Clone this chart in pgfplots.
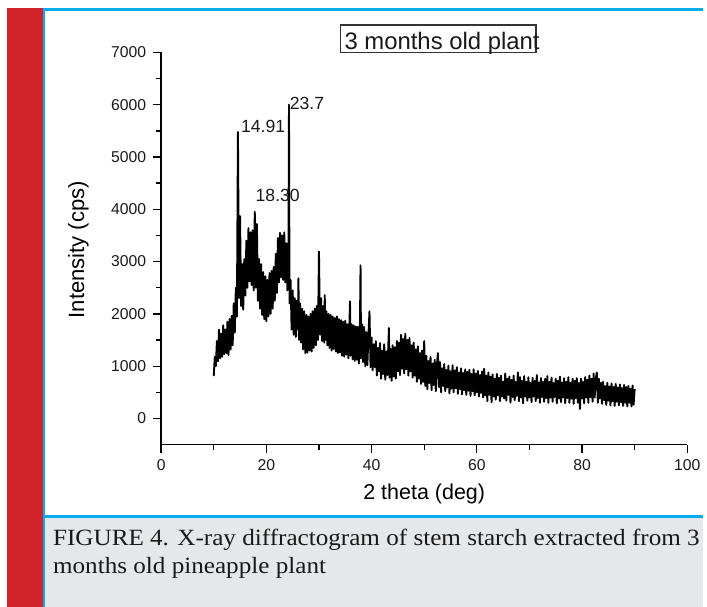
\documentclass[border=0pt]{standalone}
\usepackage{fontspec}
\setmainfont{Liberation Sans}
\newfontfamily\capfont[FakeStretch=1.08]{Liberation Serif}
\usepackage{pgfplots}
\pgfplotsset{compat=1.18}

\definecolor{pagered}{HTML}{D2232A}
\definecolor{pageblue}{HTML}{00AEEF}
\definecolor{capgray}{HTML}{E6E7E8}
\definecolor{boxgray}{HTML}{333333}

\begin{document}
\begin{tikzpicture}
% page decoration, in pixel units (y down)
\begin{scope}[x=0.5pt,y=-0.5pt]
  \useasboundingbox (0,0) rectangle (707,610);
  \fill[white] (0,0) rectangle (707,610);
  \fill[pagered] (7,8) rectangle (43,610);
  \fill[pageblue] (43,8) rectangle (45.5,610);
  \fill[pageblue] (43,8) rectangle (707,11);
  \fill[pageblue] (45.5,518) rectangle (707,521);
  \fill[capgray] (45.5,521) rectangle (707,610);
  \node[anchor=base west,inner sep=0,font=\capfont\fontsize{11.7pt}{14pt}\selectfont,text=black!90]
    at (53,548) {FIGURE 4. X-ray diffractogram of stem starch extracted from 3};
  \node[anchor=base west,inner sep=0,font=\capfont\fontsize{11.7pt}{14pt}\selectfont,text=black!90]
    at (53,577) {months old pineapple plant};
  % title box
  \draw[boxgray,line width=0.65pt] (342,25) rectangle (539,53);
  \node[anchor=base west,inner sep=0,font=\fontsize{12pt}{14pt}\selectfont,text=black!90]
    at (346,49.3) {3 months old plant};
\end{scope}

\begin{axis}[
    at={(81pt,-223.5pt)},
    anchor=south west,
    scale only axis,
    width=264.5pt,
    height=197.15pt,
    xmin=0, xmax=100,
    ymin=-500, ymax=7000,
    axis x line=bottom,
    axis y line=left,
    axis line style={-, line width=0.65pt},
    every tick/.style={black, line width=0.65pt},
    tick align=outside,
    major tick length=4pt,
    minor tick length=2.5pt,
    xtick={0,20,...,100},
    ytick={0,1000,...,7000},
    minor tick num=1,
    /pgf/number format/assume math mode=true,
    /pgf/number format/set thousands separator={},
    tick label style={font=\fontsize{7.9pt}{9pt}\selectfont, text=black!90},
    xlabel={2 theta (deg)},
    ylabel={Intensity (cps)},
    xlabel style={font=\fontsize{10.8pt}{13pt}\selectfont, anchor=center,
      at={(axis description cs:0.5,-0.127)}},
    ylabel style={font=\fontsize{11.1pt}{13pt}\selectfont, anchor=center, rotate=0,
      at={(axis description cs:-0.157,0.497)}},
    clip=false,
]
\addplot[black, line width=0.95pt, line join=round] table[row sep=\\] {
x y\\
10.0 810\\ 10.2 1180\\ 10.4 1000\\ 10.6 1480\\ 10.8 1090\\ 11.0 1700\\ 11.2 1150\\ 11.4 1620\\
11.6 1180\\ 11.8 1780\\ 12.0 1230\\ 12.2 1700\\ 12.4 1250\\ 12.6 1850\\ 12.8 1210\\ 13.0 1900\\
13.2 1320\\ 13.4 1960\\ 13.6 1400\\ 13.8 2200\\ 14.0 1640\\ 14.2 2500\\ 14.4 1950\\ 14.6 5480\\
14.8 2300\\ 15.0 3870\\ 15.2 2150\\ 15.4 2950\\ 15.6 2080\\ 15.8 3050\\ 16.0 2350\\ 16.2 3400\\
16.4 2500\\ 16.6 3640\\ 16.8 2620\\ 17.0 3560\\ 17.2 2550\\ 17.4 3600\\ 17.6 2450\\ 17.8 3950\\
18.0 2500\\ 18.2 3720\\ 18.4 2250\\ 18.6 3050\\ 18.8 2100\\ 19.0 2950\\ 19.2 1980\\ 19.4 2800\\
19.6 1900\\ 19.8 2720\\ 20.0 1860\\ 20.2 2650\\ 20.4 1950\\ 20.6 2780\\ 20.8 2000\\ 21.0 2820\\
21.2 2100\\ 21.4 2900\\ 21.6 2250\\ 21.8 3150\\ 22.0 2400\\ 22.2 3450\\ 22.4 2600\\ 22.6 3550\\
22.8 2700\\ 23.0 3500\\ 23.2 2650\\ 23.4 3560\\ 23.6 2600\\ 23.8 3350\\ 24.0 2450\\ 24.2 3100\\
24.3 6000\\ 24.4 2200\\ 24.6 2650\\ 24.8 1700\\ 25.0 2450\\ 25.2 1600\\ 25.4 2300\\ 25.6 1560\\
25.8 2250\\ 26.0 1700\\ 26.1 2680\\ 26.2 1500\\ 26.4 2200\\ 26.6 1450\\ 26.8 2100\\ 27.0 1320\\
27.2 2050\\ 27.4 1250\\ 27.6 1980\\ 27.8 1260\\ 28.0 1950\\ 28.2 1300\\ 28.4 2000\\ 28.6 1280\\
28.8 2050\\ 29.0 1350\\ 29.2 2100\\ 29.4 1400\\ 29.6 2150\\ 29.8 1500\\ 30.0 3190\\ 30.2 1600\\
30.4 2300\\ 30.6 1480\\ 30.8 2150\\ 31.0 1450\\ 31.1 2360\\ 31.2 1500\\ 31.4 2050\\ 31.6 1400\\
31.8 2000\\ 32.0 1350\\ 32.2 1980\\ 32.4 1300\\ 32.6 1950\\ 32.8 1330\\ 33.0 1920\\ 33.2 1280\\
33.4 1950\\ 33.6 1250\\ 33.8 1900\\ 34.0 1260\\ 34.2 1880\\ 34.4 1200\\ 34.6 1850\\ 34.8 1180\\
35.0 1870\\ 35.2 1220\\ 35.4 1800\\ 35.6 1150\\ 35.8 1850\\ 35.9 2240\\ 36.0 1200\\ 36.2 1800\\
36.4 1130\\ 36.6 1780\\ 36.8 1100\\ 37.0 1760\\ 37.2 1120\\ 37.4 1750\\ 37.6 1050\\ 37.8 1900\\
37.9 2930\\ 38.0 1150\\ 38.2 1800\\ 38.4 1080\\ 38.6 1750\\ 38.8 1000\\ 39.0 1650\\ 39.2 1020\\
39.4 1600\\ 39.6 2050\\ 39.8 980\\
40.0 1550\\ 40.2 920\\ 40.4 1420\\ 40.6 980\\ 40.8 1480\\ 41.0 820\\ 41.2 1350\\ 41.4 900\\
41.6 1440\\ 41.8 760\\ 42.0 1300\\ 42.2 850\\ 42.4 1420\\ 42.6 740\\ 42.8 1280\\ 43.0 830\\
43.2 1450\\ 43.3 1730\\ 43.4 780\\ 43.6 1330\\ 43.8 720\\ 44.0 1400\\ 44.2 800\\ 44.4 1360\\
44.6 760\\ 44.8 1480\\ 45.0 900\\ 45.2 1450\\ 45.4 830\\ 45.6 1600\\ 45.8 950\\ 46.0 1520\\
46.2 860\\ 46.4 1620\\ 46.6 940\\ 46.8 1500\\ 47.0 820\\ 47.2 1540\\ 47.4 900\\ 47.6 1400\\
47.8 780\\ 48.0 1450\\ 48.2 820\\ 48.4 1320\\ 48.6 700\\ 48.8 1380\\ 49.0 760\\ 49.2 1250\\
49.4 660\\ 49.6 1300\\ 49.8 700\\ 50.0 1480\\ 50.2 620\\ 50.4 1200\\ 50.6 560\\ 50.8 1100\\
51.0 680\\ 51.2 1180\\ 51.4 540\\ 51.6 1050\\ 51.8 640\\ 52.0 1120\\ 52.2 520\\ 52.4 1000\\
52.6 1250\\ 52.8 600\\ 53.0 1080\\ 53.2 500\\ 53.4 960\\ 53.6 620\\ 53.8 1040\\ 54.0 520\\
54.2 930\\ 54.4 590\\ 54.6 1010\\ 54.8 480\\ 55.0 900\\ 55.2 570\\ 55.4 1020\\ 55.6 500\\
55.8 920\\ 56.0 580\\ 56.2 980\\ 56.4 470\\ 56.6 880\\ 56.8 560\\ 57.0 960\\ 57.2 460\\
57.4 870\\ 57.6 540\\ 57.8 940\\ 58.0 450\\ 58.2 890\\ 58.4 530\\ 58.6 930\\ 58.8 430\\
59.0 850\\ 59.2 520\\ 59.4 940\\ 59.6 440\\ 59.8 860\\ 60.0 500\\ 60.2 910\\ 60.4 420\\
60.6 830\\ 60.8 490\\ 61.0 900\\ 61.2 400\\ 61.4 950\\ 61.6 440\\ 61.8 820\\ 62.0 330\\
62.2 880\\ 62.4 450\\ 62.6 800\\ 62.8 310\\ 63.0 840\\ 63.2 420\\ 63.4 760\\ 63.6 360\\
63.8 850\\ 64.0 440\\ 64.2 780\\ 64.4 330\\ 64.6 820\\ 64.8 420\\ 65.0 700\\ 65.2 380\\
65.4 860\\ 65.6 340\\ 65.8 760\\ 66.0 450\\ 66.2 800\\ 66.4 300\\ 66.6 740\\ 66.8 410\\
67.0 820\\ 67.2 350\\ 67.4 700\\ 67.6 430\\ 67.8 880\\ 68.0 330\\ 68.2 790\\ 68.4 400\\
68.6 720\\ 68.8 290\\ 69.0 810\\ 69.2 420\\ 69.4 700\\ 69.6 340\\ 69.8 790\\ 70.0 400\\
70.2 680\\ 70.4 310\\ 70.6 780\\ 70.8 420\\ 71.0 720\\ 71.2 330\\ 71.4 830\\ 71.6 390\\
71.8 690\\ 72.0 300\\ 72.2 770\\ 72.4 410\\ 72.6 700\\ 72.8 320\\ 73.0 760\\ 73.2 390\\
73.4 810\\ 73.6 300\\ 73.8 700\\ 74.0 400\\ 74.2 780\\ 74.4 320\\ 74.6 680\\ 74.8 410\\
75.0 760\\ 75.2 290\\ 75.4 720\\ 75.6 380\\ 75.8 800\\ 76.0 310\\ 76.2 690\\ 76.4 400\\
76.6 770\\ 76.8 290\\ 77.0 700\\ 77.2 390\\ 77.4 790\\ 77.6 300\\ 77.8 680\\ 78.0 380\\
78.2 760\\ 78.4 280\\ 78.6 720\\ 78.8 390\\ 79.0 770\\ 79.2 300\\ 79.4 680\\ 79.6 180\\
79.8 760\\ 80.0 380\\ 80.2 700\\ 80.4 290\\ 80.6 790\\ 80.8 400\\ 81.0 740\\ 81.2 300\\
81.4 820\\ 81.6 410\\ 81.8 760\\ 82.0 320\\ 82.2 860\\ 82.4 400\\ 82.6 750\\ 82.8 880\\
83.0 300\\ 83.2 760\\ 83.4 380\\ 83.6 680\\ 83.8 280\\ 84.0 700\\ 84.2 350\\ 84.4 620\\
84.6 260\\ 84.8 680\\ 85.0 340\\ 85.2 610\\ 85.4 250\\ 85.6 670\\ 85.8 330\\ 86.0 600\\
86.2 240\\ 86.4 660\\ 86.6 320\\ 86.8 590\\ 87.0 250\\ 87.2 650\\ 87.4 310\\ 87.6 580\\
87.8 240\\ 88.0 640\\ 88.2 300\\ 88.4 600\\ 88.6 230\\ 88.8 620\\ 89.0 300\\ 89.2 570\\
89.4 230\\ 89.6 630\\ 89.8 260\\ 90.0 560\\
};
% peak labels
\node[anchor=base west, inner sep=0, font=\fontsize{8.85pt}{10pt}\selectfont, text=black!90]
  at (axis cs:15.12,5475) {14.91};
\node[anchor=base west, inner sep=0, font=\fontsize{8.85pt}{10pt}\selectfont, text=black!90]
  at (axis cs:24.39,5913) {23.7};
\node[anchor=base west, inner sep=0, font=\fontsize{8.85pt}{10pt}\selectfont, text=black!90]
  at (axis cs:17.9,4144) {18.30};
\end{axis}
\end{tikzpicture}
\end{document}
